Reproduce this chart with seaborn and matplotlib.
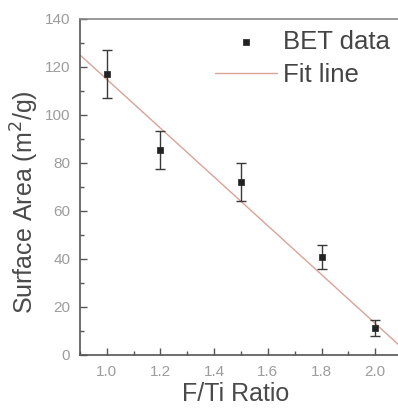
import numpy as np
import pandas as pd
import matplotlib
matplotlib.use("Agg")
import matplotlib.pyplot as plt
import seaborn as sns
from matplotlib.ticker import MultipleLocator

# Data
ratio = [1.0, 1.2, 1.5, 1.8, 2.0]
surface_area = [117.0, 85.4, 72.0, 40.7, 11.4]
error = [10.0, 8.0, 8.0, 5.0, 3.3]
fit_x = [0.9, 2.1]
fit_y = [125.0, 3.0]
x_ticks = [1.0, 1.2, 1.4, 1.6, 1.8, 2.0]
y_ticks = [0, 20, 40, 60, 80, 100, 120, 140]

sns.set_theme(style="ticks")
plt.rcParams['font.family'] = ['Liberation Sans', 'DejaVu Sans']

df = pd.DataFrame({"ratio": ratio, "area": surface_area, "err": error})
fit_df = pd.DataFrame({"x": fit_x, "y": fit_y})

fig = plt.figure(figsize=(3.98, 4.08), dpi=100)
ax = fig.add_axes([80/398, 1 - 355/408, 322/398, 336/408])

ax.errorbar(df["ratio"], df["area"], yerr=df["err"], fmt="none",
            ecolor="#3a3a3a", elinewidth=1.0, capsize=3.5, capthick=1.0, zorder=3)
sns.lineplot(data=fit_df, x="x", y="y", ax=ax, color="#d9a396", linewidth=1.0,
             label="Fit line", zorder=2)
sns.scatterplot(data=df, x="ratio", y="area", ax=ax, marker="s", s=22,
                color="#222222", edgecolor="#222222", linewidth=0.5,
                label="BET data", zorder=4)

ax.set_xlim(0.9, 2.1)
ax.set_ylim(0, 140)
ax.set_xticks(x_ticks)
ax.set_yticks(y_ticks)
ax.set_xticklabels([f"{v:.1f}" for v in x_ticks])
ax.set_yticklabels([str(v) for v in y_ticks])
ax.xaxis.set_minor_locator(MultipleLocator(0.1))
ax.yaxis.set_minor_locator(MultipleLocator(10))
ax.tick_params(which="major", direction="in", length=5, width=1.0, color="#555555",
               labelcolor="#9c9c9c", labelsize=11, pad=7)
ax.tick_params(which="minor", direction="in", length=3, width=1.0, color="#555555")
ax.tick_params(axis="x", which="both", top=False)
ax.tick_params(axis="y", which="both", right=False)

for side in ["left", "bottom", "top"]:
    ax.spines[side].set_color("#555555")
    ax.spines[side].set_linewidth(1.2)
ax.spines["right"].set_visible(False)
ax.spines["top"].set_color("#888888")

ax.set_xlabel("F/Ti Ratio", fontsize=18, color="#4a4a4a")
ax.set_ylabel("Surface Area (m$^2$/g)", fontsize=18, color="#4a4a4a")
ax.xaxis.set_label_coords((236 - 80) / 322, -0.08)
ax.yaxis.set_label_coords((41 - 80) / 322, (355 - 202) / 336)

handles, labels = ax.get_legend_handles_labels()
order = [labels.index("BET data"), labels.index("Fit line")]
leg = ax.legend([handles[i] for i in order], [labels[i] for i in order],
                loc="upper left", bbox_to_anchor=((215 - 80) / 322, 1 - (30 - 19) / 336),
                frameon=False, fontsize=18.5, handlelength=2.4, handletextpad=0.25,
                labelspacing=0.35, borderaxespad=0, borderpad=0)
for t in leg.get_texts():
    t.set_color("#444444")

fig.savefig("out.png", dpi=100)
